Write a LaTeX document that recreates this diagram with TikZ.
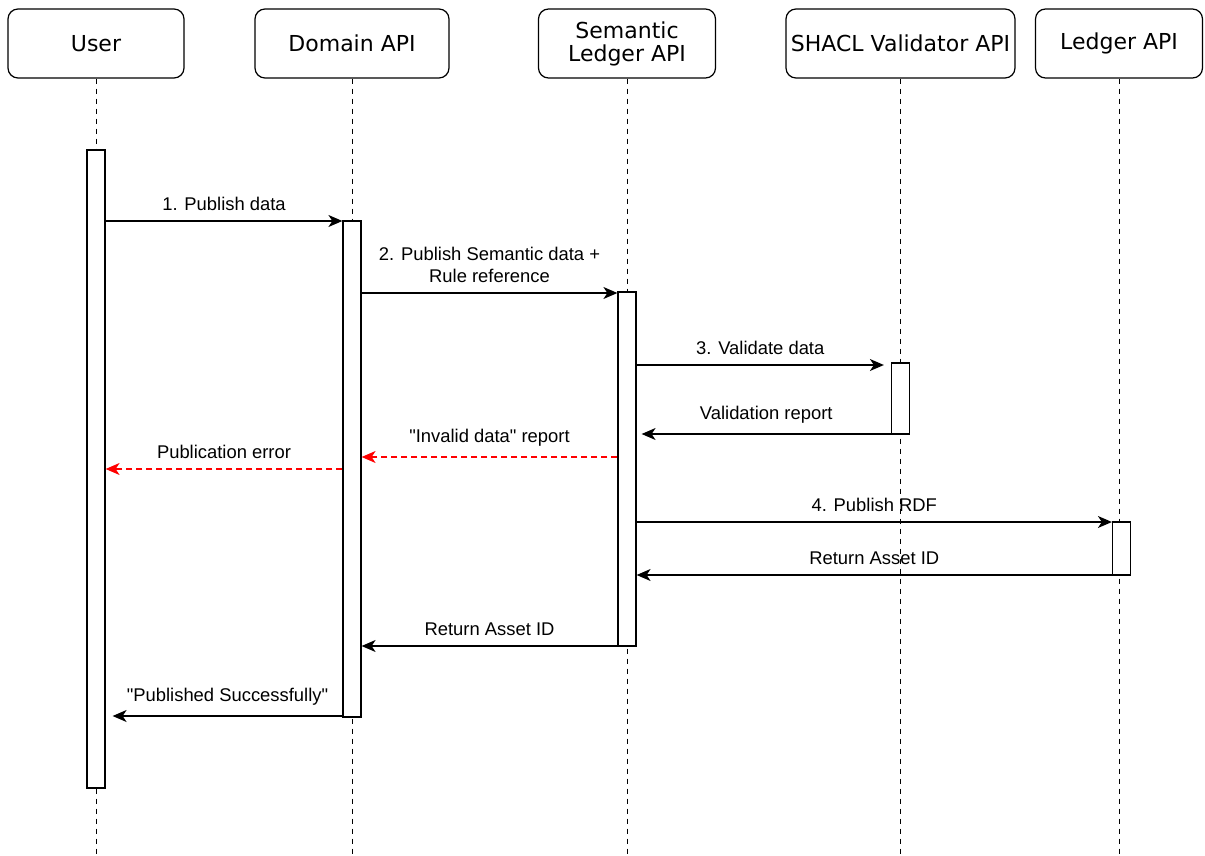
\documentclass[tikz,border=0pt]{standalone}
\usepackage{fontspec}
\setmainfont{Liberation Sans}
\newfontfamily\headfont{DejaVu Sans}
\usepackage{tikz}
\usetikzlibrary{arrows.meta}
\tikzstyle{head}=[draw,rounded corners=5pt,minimum height=34.5pt,inner xsep=1pt,align=center,line width=0.6pt,font=\headfont\fontsize{11}{11.5}\selectfont]
\tikzstyle{actbar}=[draw,fill=white,minimum width=9pt,inner sep=0pt,line width=0.6pt]
\tikzstyle{life}=[dash pattern=on 2.5pt off 2.5pt,line width=0.5pt]
\tikzstyle{msg}=[-{Stealth[length=7pt,width=6pt,inset=2pt]},line width=0.7pt]
\tikzstyle{errmsg}=[msg,red,dash pattern=on 3pt off 2pt]
\tikzstyle{lbl}=[above=1.5pt,align=center,font=\fontsize{9.2}{11}\selectfont]
\newcommand{\headnode}{\node[head]}
\newcommand{\barnode}{\node[actbar]}
\newcommand{\qt}{\textquotedbl}

\begin{document}
\begin{tikzpicture}[x=0.5pt,y=-0.5pt]
  \useasboundingbox (0,0) rectangle (1205,856);
  % participants
  \headnode[minimum width=88pt] (user) at (96,43.5) {User}; %
  \headnode[minimum width=97pt] (domain) at (352,43.5) {Domain API}; %
  \headnode[minimum width=88.5pt] (semantic) at (627,43.5) {Semantic\\Ledger API}; %
  \headnode[minimum width=114.5pt] (shacl) at (900.5,43.5) {SHACL Validator API}; %
  \headnode[minimum width=83.5pt] (ledger) at (1119,43.5) {Ledger API};
  \coordinate (bottom) at (0,856);
  % lifelines
  \foreach \p in {user,domain,semantic,shacl,ledger}
    \draw[life] (\p.south) -- (\p.south |- bottom);
  % activations
  \barnode[minimum height=319pt] (ubar) at (96,469) {}; %
  \barnode[minimum height=248pt] (dbar) at (352,469) {}; %
  \barnode[minimum height=177pt] (sbar) at (627,469) {}; %
  \barnode[minimum height=35.5pt] (vbar) at (900.5,398.5) {}; %
  \barnode[minimum height=26.5pt] (lbar) at (1121.5,548.5) {};
  % message rows
  \coordinate (t1) at (0,221);
  \coordinate (t2) at (0,293);
  \coordinate (t3) at (0,365);
  \coordinate (t4) at (0,434);
  \coordinate (t5) at (0,457);
  \coordinate (t6) at (0,469);
  \coordinate (t7) at (0,522);
  \coordinate (t8) at (0,575);
  \coordinate (t9) at (0,646);
  \coordinate (t10) at (0,716);
  % messages
  \draw[msg] (ubar.east |- t1) -- node[lbl] {1. Publish data} (dbar.west |- t1);
  \draw[msg] (dbar.east |- t2) -- node[lbl] {2. Publish Semantic data +\\Rule reference} (sbar.west |- t2);
  \draw[msg] (sbar.east |- t3) -- node[lbl] {3. Validate data} ([xshift=-3.5pt]vbar.west |- t3);
  \draw[msg] (vbar.west |- t4) -- node[lbl] {Validation report} ([xshift=2.5pt]sbar.east |- t4);
  \draw[errmsg] (sbar.west |- t5) -- node[lbl,black] {\qt Invalid data\qt{} report} (dbar.east |- t5);
  \draw[errmsg] (dbar.west |- t6) -- node[lbl,black] {Publication error} (ubar.east |- t6);
  \draw[msg] (sbar.east |- t7) -- node[lbl] {4. Publish RDF} (lbar.west |- t7);
  \draw[msg] (lbar.west |- t8) -- node[lbl] {Return Asset ID} (sbar.east |- t8);
  \draw[msg] (sbar.west |- t9) -- node[lbl] {Return Asset ID} (dbar.east |- t9);
  \draw[msg] (dbar.west |- t10) -- node[lbl] {\qt Published Successfully\qt} ([xshift=3.5pt]ubar.east |- t10);
\end{tikzpicture}
\end{document}
